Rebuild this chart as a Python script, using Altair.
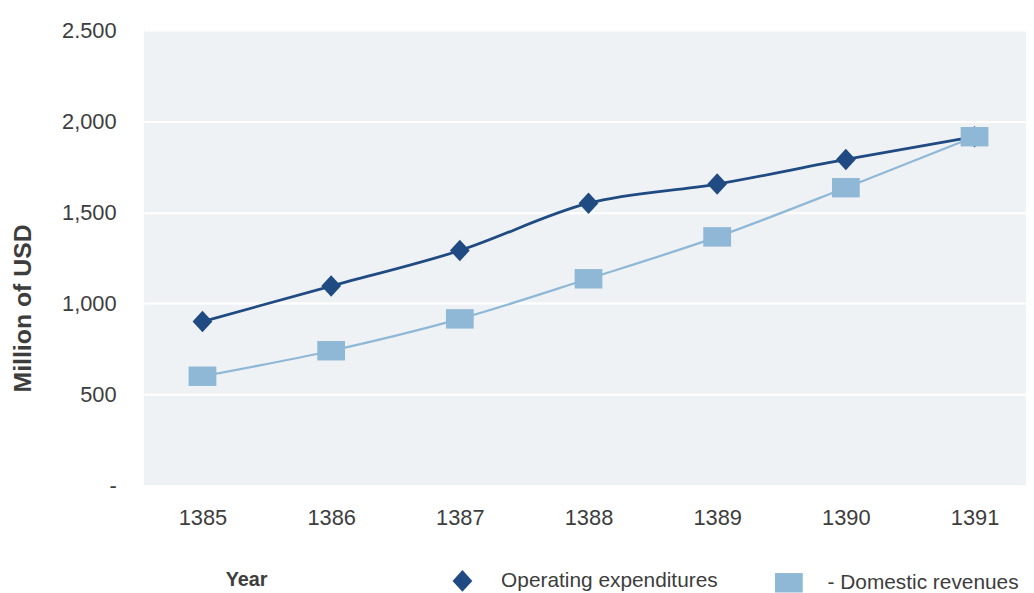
import altair as alt
import pandas as pd

years = [1385, 1386, 1387, 1388, 1389, 1390, 1391]
operating_expenditures = [900, 1095, 1290, 1550, 1655, 1790, 1915]
domestic_revenues = [600, 740, 915, 1135, 1365, 1635, 1915]
series_names = ["Operating expenditures", "- Domestic revenues"]
series_colors = ["#1f4a82", "#8fb8d6"]
y_ticks = [0, 500, 1000, 1500, 2000, 2500]

rows = []
for yr, a, b in zip(years, operating_expenditures, domestic_revenues):
    rows.append({"Year": yr, "Series": series_names[0], "Value": a})
    rows.append({"Year": yr, "Series": series_names[1], "Value": b})
df = pd.DataFrame(rows)

DIAMOND = "M0,-1L0.92,0L0,1L-0.92,0Z"
RECT = "M-1,-0.7L1,-0.7L1,0.7L-1,0.7Z"

FONT = "Liberation Sans"
TXT = "#3d3d3d"

dash_label = "-" + "\u00a0" * 5
label_expr = (
    "datum.value == 0 ? '" + dash_label + "' : "
    "(datum.value == 2500 ? '2.500' : format(datum.value, ','))"
)

x_enc = alt.X(
    "Year:Q",
    scale=alt.Scale(domain=[1384.545, 1391.40], nice=False, zero=False),
    axis=alt.Axis(
        values=years, format="d", grid=False, domain=False, ticks=False,
        labelFontSize=22, labelColor=TXT, labelFont=FONT, labelPadding=22,
        title="Year", titleFontSize=20, titleFontWeight="bold", titleColor=TXT,
        titleFont=FONT, titleX=103, titleY=95, titleAlign="center",
        titleBaseline="middle",
    ),
)
y_enc = alt.Y(
    "Value:Q",
    scale=alt.Scale(domain=[0, 2500], nice=False),
    axis=alt.Axis(
        values=y_ticks, labelExpr=label_expr, grid=True, gridColor="white",
        gridWidth=2, domain=False, ticks=False, labelFontSize=22,
        labelColor=TXT, labelFont=FONT, labelPadding=28,
        title="Million of USD", titleFontSize=25, titleFontWeight="bold",
        titleColor=TXT, titleFont=FONT, titleX=-122, titleY=280,
        titleAlign="center", titleBaseline="middle", titleAngle=270,
    ),
)

legend = alt.Legend(
    title=None, orient="none", legendX=307, legendY=543, direction="horizontal",
    columns=2, labelFontSize=21, labelColor=TXT, labelFont=FONT,
    labelOffset=25, columnPadding=57, symbolSize=300, symbolStrokeWidth=0,
    padding=0, labelLimit=400,
)
color_enc = alt.Color("Series:N", scale=alt.Scale(domain=series_names, range=series_colors), legend=legend)
shape_enc = alt.Shape("Series:N", scale=alt.Scale(domain=series_names, range=[DIAMOND, RECT]), legend=legend)
size_enc = alt.Size("Series:N", scale=alt.Scale(domain=series_names, range=[470, 784]), legend=None)

base = alt.Chart(df)

layers = []
widths = [2.8, 2.3]
for name, w, c in zip(series_names, widths, series_colors):
    sub = base.transform_filter(alt.datum.Series == name)
    layers.append(
        sub.mark_line(interpolate="monotone", strokeWidth=w, color=c).encode(
            x=x_enc, y=y_enc
        )
    )
    layers.append(
        sub.mark_point(filled=True, opacity=1, strokeWidth=0).encode(
            x=x_enc, y=y_enc, color=color_enc, shape=shape_enc, size=size_enc
        )
    )

chart = (
    alt.layer(*layers)
    .properties(
        width=889, height=459,
        autosize=alt.AutoSizeParams(type="none"),
        padding={"left": 137, "top": 20, "right": 0, "bottom": 106},
        background="white",
    )
    .configure_view(fill="#eff2f5", stroke=None)
)

chart.save("out.html", embed_options={"renderer": "svg", "actions": False})
